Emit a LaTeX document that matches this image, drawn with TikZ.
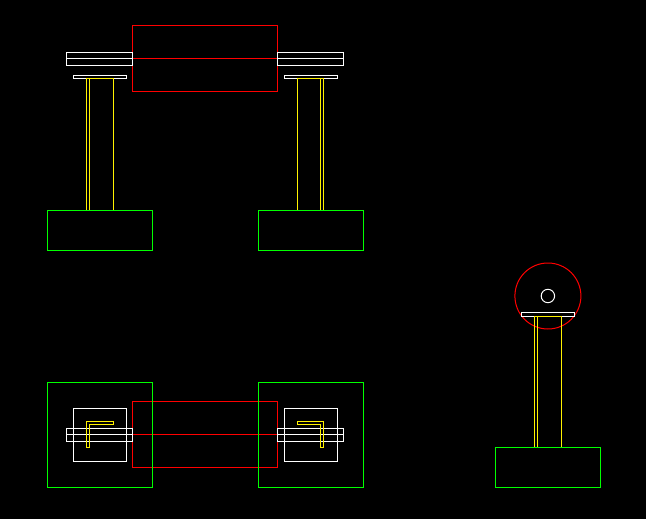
\documentclass[tikz,border=0pt]{standalone}
\tikzset{
  wl/.style={draw=white,line width=1pt},
  yl/.style={draw=yellow,line width=1pt},
  gl/.style={draw=green,line width=1pt},
  rl/.style={draw=red,line width=1pt}
}
\begin{document}
\begin{tikzpicture}[x=1pt,y=-1pt]
\fill[black] (0,0) rectangle (646,519);
\useasboundingbox (0,0) rectangle (646,519);
% front elevation
\draw[rl] (132.5,25.5) rectangle (277.5,91.5);
\draw[rl] (132.5,58.5) -- (277.5,58.5);
\foreach \bx/\cx/\gx/\pa/\pb/\pc in {66.5/73.5/47.5/86.5/89.5/113.5, 277.5/284.5/258.5/297.5/320.5/323.5}{
  \pgfmathsetmacro{\bxr}{\bx+66}
  \pgfmathsetmacro{\cxr}{\cx+53}
  \pgfmathsetmacro{\gxr}{\gx+105}
  \draw[wl] (\bx,52.5) rectangle (\bxr,65.5);
  \draw[wl] (\bx,58.5) -- (\bxr,58.5);
  \draw[wl] (\cx,75.5) rectangle (\cxr,78.5);
  \draw[yl] (\pa,78.5) rectangle (\pc,210.5);
  \draw[yl] (\pb,78.5) -- (\pb,210.5);
  \draw[gl] (\gx,210.5) rectangle (\gxr,250.5);
}
% plan
\draw[rl] (132.5,401.5) rectangle (277.5,467.5);
\draw[rl] (132.5,434.5) -- (277.5,434.5);
\foreach \bx/\cx/\gx in {66.5/73.5/47.5, 277.5/284.5/258.5}{
  \pgfmathsetmacro{\bxr}{\bx+66}
  \pgfmathsetmacro{\cxr}{\cx+53}
  \pgfmathsetmacro{\gxr}{\gx+105}
  \draw[gl] (\gx,382.5) rectangle (\gxr,487.5);
  \draw[wl] (\cx,408.5) rectangle (\cxr,461.5);
  \draw[wl] (\bx,428.5) rectangle (\bxr,441.5);
  \draw[wl] (\bx,434.5) -- (\bxr,434.5);
}
\draw[yl] (86.5,421.5) -- (113.5,421.5) -- (113.5,424.5) -- (89.5,424.5) -- (89.5,447.5) -- (86.5,447.5) -- cycle;
\draw[yl] (323.5,421.5) -- (297.5,421.5) -- (297.5,424.5) -- (320.5,424.5) -- (320.5,447.5) -- (323.5,447.5) -- cycle;
% side view
\draw[rl] (547.9,296) circle (33);
\draw[wl] (547.9,296) circle (6.7);
\draw[wl] (521.5,312.5) rectangle (574.5,316.5);
\draw[yl] (534.5,316.5) rectangle (561.5,447.5);
\draw[yl] (537.5,316.5) -- (537.5,447.5);
\draw[gl] (495.5,447.5) rectangle (600.5,487.5);
\end{tikzpicture}
\end{document}
